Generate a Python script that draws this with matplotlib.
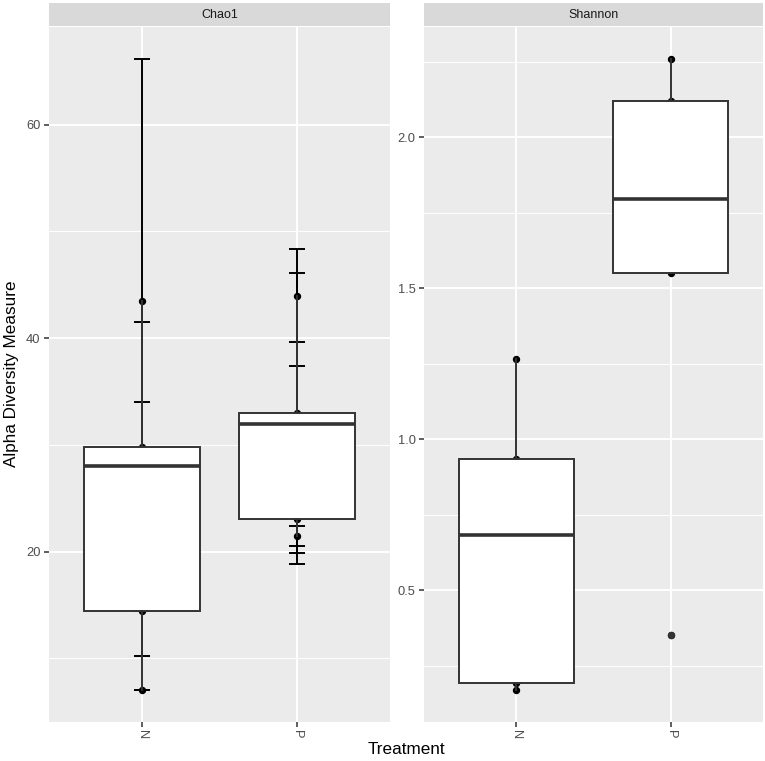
import matplotlib
matplotlib.use('Agg')
import matplotlib.pyplot as plt
from matplotlib.ticker import MultipleLocator, FormatStrFormatter
import numpy as np

plt.rcParams['font.family'] = ['Liberation Sans', 'DejaVu Sans']

groups = ['N', 'P']

# Chao1 estimate per sample and its standard error
chao1_N = [7.0, 14.4, 28.0, 29.8, 43.5]
chao1_se_N = [0.0, 4.2, 13.56, 4.2, 22.7]
chao1_P = [21.43, 23.06, 32.0, 33.0, 44.0]
chao1_se_P = [0.93, 4.18, 5.39, 13.1, 4.35]

# Shannon index per sample (no error bars)
shannon_N = [0.168, 0.192, 0.682, 0.933, 1.265]
shannon_P = [0.35, 1.551, 1.797, 2.121, 2.261]

bg = '#EBEBEB'
dark = '#333333'

fig = plt.figure(figsize=(7.65, 7.61), dpi=100)
W, H = 765, 761


def px_axes(x0, y0, x1, y1):
    return fig.add_axes([x0 / W, 1 - y1 / H, (x1 - x0) / W, (y1 - y0) / H])


def panel(ax, values, ses, title, major, minor, fmt):
    ax.set_facecolor(bg)
    for s in ax.spines.values():
        s.set_visible(False)
    pos = np.arange(1, len(groups) + 1)
    all_lo, all_hi = [], []
    for i, vals in enumerate(values):
        vals = np.array(vals)
        xs = np.full(len(vals), pos[i], dtype=float)
        if ses is not None:
            se = np.array(ses[i])
            lo, hi = vals - se, vals + se
            ax.vlines(xs, lo, hi, color='black', lw=1.4, zorder=2)
            ax.hlines(lo, xs - 0.05, xs + 0.05, color='black', lw=1.4, zorder=2)
            ax.hlines(hi, xs - 0.05, xs + 0.05, color='black', lw=1.4, zorder=2)
            all_lo.append(lo.min()); all_hi.append(hi.max())
        else:
            all_lo.append(vals.min()); all_hi.append(vals.max())
        ax.plot(xs, vals, 'o', color='black', ms=4.3, zorder=2)
    ax.boxplot(values, positions=pos, widths=0.75, patch_artist=True,
               showcaps=False, zorder=3,
               boxprops=dict(facecolor='white', edgecolor=dark, linewidth=1.4),
               medianprops=dict(color=dark, linewidth=2.6),
               whiskerprops=dict(color=dark, linewidth=1.4),
               flierprops=dict(marker='o', markerfacecolor=dark,
                               markeredgecolor=dark, markersize=4.3))
    lo, hi = min(all_lo), max(all_hi)
    pad = 0.05 * (hi - lo)
    ax.set_ylim(lo - pad, hi + pad)
    ax.set_xlim(0.4, len(groups) + 0.6)
    ax.set_xticks(pos)
    ax.set_xticklabels(groups, rotation=-90, va='top', ha='center')
    ax.yaxis.set_major_locator(MultipleLocator(major))
    ax.yaxis.set_minor_locator(MultipleLocator(minor))
    ax.yaxis.set_major_formatter(FormatStrFormatter(fmt))
    ax.set_axisbelow(True)
    ax.grid(which='major', color='white', lw=1.4)
    ax.grid(which='minor', axis='y', color='white', lw=0.7)
    ax.tick_params(which='major', length=3.5, width=1.1, color=dark,
                   labelsize=9.3, labelcolor='#4D4D4D', pad=2.5)
    ax.tick_params(which='minor', length=0)

    # facet strip
    bb = ax.get_position()
    sax = fig.add_axes([bb.x0, bb.y1 + 1 / H, bb.width, 23 / H])
    sax.set_facecolor('#D9D9D9')
    sax.set_xticks([]); sax.set_yticks([])
    for s in sax.spines.values():
        s.set_visible(False)
    sax.text(0.5, 0.5, title, ha='center', va='center', fontsize=9,
             color='#1A1A1A', transform=sax.transAxes)


ax1 = px_axes(49, 27, 390, 722)
ax2 = px_axes(424, 27, 763, 722)
panel(ax1, [chao1_N, chao1_P], [chao1_se_N, chao1_se_P], 'Chao1', 20, 10, '%d')
panel(ax2, [shannon_N, shannon_P], None, 'Shannon', 0.5, 0.25, '%.1f')

fig.text(406 / W, 1 - 749 / H, 'Treatment', ha='center', va='center', fontsize=12.3)
fig.text(12 / W, 1 - 374 / H, 'Alpha Diversity Measure', ha='center', va='center',
         rotation=90, fontsize=12.3)

fig.savefig('out.png', dpi=100)
